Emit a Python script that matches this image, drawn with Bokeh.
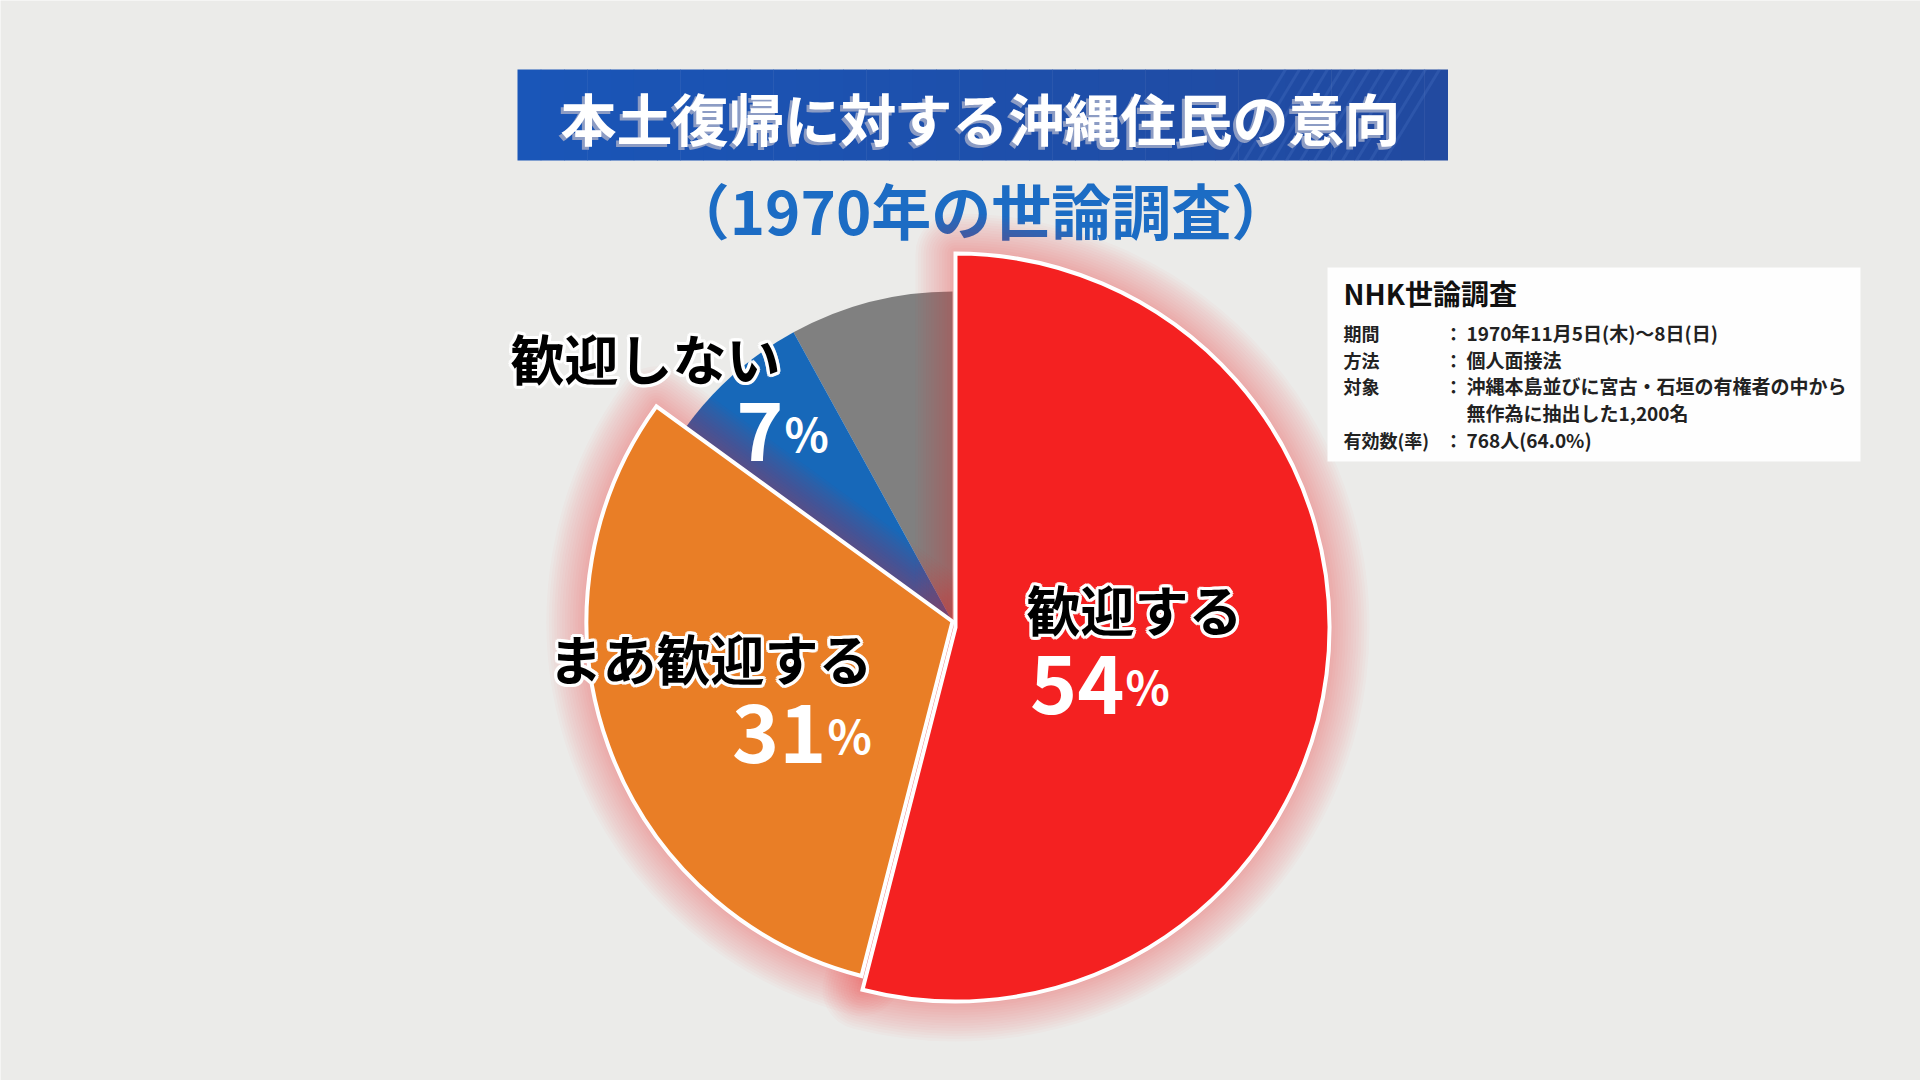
import numpy as np
from bokeh.plotting import figure
from bokeh.models import ColumnDataSource, Range1d
from bokeh.embed import file_html
from bokeh.resources import INLINE
from bokeh.core.properties import value

# ---------------- data ----------------
categories = ["歓迎する", "まあ歓迎する", "歓迎しない", "その他・わからない"]
percents = [54, 31, 7, 8]
pct_numbers = ["54", "31", "7"]
slice_colors = ["#f42121", "#e97e26", "#1768b9", "#808080"]

title_text = "本土復帰に対する沖縄住民の意向"
subtitle_text = "（1970年の世論調査）"
box_title = "NHK世論調査"
box_keys = ["期間", "方法", "対象", "", "有効数(率)"]
box_values = ["1970年11月5日(木)～8日(日)", "個人面接法",
              "沖縄本島並びに宮古・石垣の有権者の中から",
              "無作為に抽出した1,200名", "768人(64.0%)"]

# ---------------- canvas ----------------
W, H = 1920, 1080
FONT = value("Noto Sans CJK JP")


def Y(s):
    return H - s


p = figure(width=W, height=H, x_range=Range1d(0, W), y_range=Range1d(0, H),
           output_backend="svg", toolbar_location=None,
           x_axis_type=None, y_axis_type=None, min_border=0)
p.outline_line_color = None
p.grid.visible = False
p.background_fill_color = "#ebebe9"
p.border_fill_color = "#ebebe9"

# ---------------- title banner ----------------
bx0, bx1, by0, by1 = 517, 1447, 69, 160
n = 40
xs = np.linspace(bx0, bx1, n + 1)
c0 = np.array([0x1a, 0x56, 0xb8])
c1 = np.array([0x22, 0x4a, 0xa0])
strip_cols = ["#%02x%02x%02x" % tuple((c0 + (c1 - c0) * (i / (n - 1))).astype(int)) for i in range(n)]
p.quad(left=xs[:-1], right=xs[1:] + 0.5, bottom=Y(by1), top=Y(by0),
       fill_color=strip_cols, line_color=None)
sx = np.arange(1230, 1390, 14)
p.segment(x0=sx, y0=Y(by1), x1=sx + 55, y1=Y(by0), line_color="#5d86d0",
          line_alpha=0.22, line_width=3)

title_x, title_y = 980, 116
p.text(x=[title_x - 3], y=[Y(title_y) - 3], text=[title_text], text_font=FONT,
       text_font_style="bold", text_font_size="56px", text_color="#8c9cc4",
       text_align="center", text_baseline="middle")
p.text(x=[title_x], y=[Y(title_y)], text=[title_text], text_font=FONT,
       text_font_style="bold", text_font_size="56px", text_color="white",
       text_align="center", text_baseline="middle")

p.text(x=[980], y=[Y(208)], text=[subtitle_text], text_font=FONT,
       text_font_style="bold", text_font_size="60px", text_color="#1c6cc4",
       text_align="center", text_baseline="middle")

# ---------------- pie ----------------
frac = np.array(percents, dtype=float) / sum(percents)
cum = np.concatenate([[0.0], np.cumsum(frac)])
start = np.pi / 2 - cum[:-1] * 2 * np.pi
end = np.pi / 2 - cum[1:] * 2 * np.pi

cx_base, cy_base = 952, 621
cx = [955, cx_base, cx_base, cx_base]
cy = [Y(627), Y(cy_base), Y(cy_base), Y(cy_base)]
rad = [374, 366, 330, 330]

src = ColumnDataSource(dict(cat=categories, x=cx, y=cy, r=rad,
                            start=start, end=end, color=slice_colors))


def sub(idx):
    return ColumnDataSource({k: [v[i] for i in idx] for k, v in src.data.items()})


small = sub([3, 2])
big = sub([1, 0])

# gray and blue
p.wedge(x="x", y="y", radius="r", start_angle="start", end_angle="end",
        direction="clock", fill_color="color", line_color=None, source=small)

# soft red glow around the orange and red slices
for w in np.linspace(80, 6, 15):
    p.wedge(x="x", y="y", radius="r", start_angle="start", end_angle="end",
            direction="clock", fill_alpha=0, line_color="#ff3030",
            line_alpha=0.024, line_width=float(w), line_join="round", source=big)

# orange and red with white borders
p.wedge(x="x", y="y", radius="r", start_angle="start", end_angle="end",
        direction="clock", fill_color="color", line_color="white",
        line_width=4, line_join="miter", source=big)

# ---------------- labels ----------------
halo_offsets = [(np.cos(t) * 3.2, np.sin(t) * 3.2) for t in np.linspace(0, 2 * np.pi, 12, endpoint=False)]


def halo_text(x, y, txt, align):
    for dx, dy in halo_offsets:
        p.text(x=[x + dx], y=[Y(y) + dy], text=[txt], text_font=FONT,
               text_font_style="bold", text_font_size="54px", text_color="white",
               text_alpha=0.9, text_align=align, text_baseline="middle")
    p.text(x=[x], y=[Y(y)], text=[txt], text_font=FONT, text_font_style="bold",
           text_font_size="54px", text_color="black", text_align=align,
           text_baseline="middle")


def pct_text(xsplit, base, num):
    p.text(x=[xsplit], y=[Y(base)], text=[num], text_font=FONT,
           text_font_style="bold", text_font_size="80px", text_color="white",
           text_align="right", text_baseline="alphabetic")
    p.text(x=[xsplit + 1], y=[Y(base)], text=["%"], text_font=FONT,
           text_font_style="bold", text_font_size="46px", text_color="white",
           text_align="left", text_baseline="alphabetic")


halo_text(1026, 608, categories[0], "left")
pct_text(1124, 684, pct_numbers[0])
halo_text(872, 657, categories[1], "right")
pct_text(826, 733, pct_numbers[1])
halo_text(780, 357, categories[2], "right")
pct_text(783, 431, pct_numbers[2])

# ---------------- info box ----------------
p.quad(left=1327, right=1860, bottom=Y(461), top=Y(267), fill_color="white",
       fill_alpha=0.95, line_color=None)
p.text(x=[1343], y=[Y(292)], text=[box_title], text_font=FONT,
       text_font_style="bold", text_font_size="28px", text_color="#111111",
       text_align="left", text_baseline="middle")
row_y = [332, 359, 385, 412, 439]
for k, v, yy in zip(box_keys, box_values, row_y):
    if k:
        p.text(x=[1343], y=[Y(yy)], text=[k], text_font=FONT,
               text_font_style="bold", text_font_size="18px", text_color="#222222",
               text_align="left", text_baseline="middle")
        p.text(x=[1444], y=[Y(yy)], text=["："], text_font=FONT,
               text_font_style="bold", text_font_size="18px", text_color="#222222",
               text_align="left", text_baseline="middle")
    p.text(x=[1466], y=[Y(yy)], text=[v], text_font=FONT,
           text_font_style="bold", text_font_size="19px", text_color="#222222",
           text_align="left", text_baseline="middle")

open("out.html", "w").write(file_html(p, INLINE))
